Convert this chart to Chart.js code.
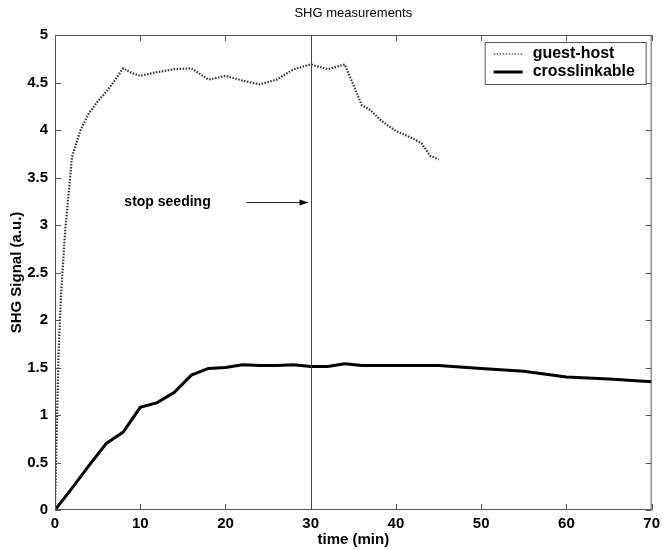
<!DOCTYPE html>
<html>
<head>
<meta charset="utf-8">
<script src="https://cdn.jsdelivr.net/npm/chart.js@4"></script>
<style>
  html, body { margin: 0; padding: 0; background: #fff; }
  #wrap { width: 665px; height: 550px; }
</style>
</head>
<body>
<div id="wrap"><canvas id="c"></canvas></div>
<script>
// data
const guestTime  = [0, 0.4, 0.7, 1.2, 2, 3, 4, 5, 6, 7, 8, 9, 10, 12, 14, 16, 18, 20, 22, 24, 26, 28, 30, 32, 34, 36, 37, 38, 39, 40, 41, 42, 43, 44, 45];
const guestHost  = [0, 1.6, 2.25, 2.95, 3.72, 4.0, 4.18, 4.3, 4.4, 4.52, 4.65, 4.6, 4.57, 4.61, 4.64, 4.65, 4.53, 4.57, 4.52, 4.48, 4.53, 4.64, 4.69, 4.64, 4.69, 4.26, 4.21, 4.12, 4.05, 3.99, 3.95, 3.91, 3.86, 3.73, 3.69];

const crossTime  = [0, 2, 4, 6, 8, 10, 12, 14, 16, 18, 20, 22, 24, 26, 28, 30, 32, 34, 36, 40, 45, 50, 55, 60, 65, 70];
const crossLink  = [0, 0.23, 0.47, 0.70, 0.82, 1.08, 1.13, 1.24, 1.42, 1.49, 1.50, 1.53, 1.52, 1.52, 1.53, 1.51, 1.51, 1.54, 1.52, 1.52, 1.52, 1.49, 1.46, 1.40, 1.38, 1.35];

const seriesNames = ['guest-host', 'crosslinkable'];
const stopSeedingTime = 30;
const arrowFrom = 22.5;
const arrowLevel = 3.24;
const labelTime = 13.2;

const toPoints = (xs, ys) => xs.map((x, i) => ({ x: x, y: ys[i] }));

const FONT = '"Liberation Sans", Arial, sans-serif';

// matlab-ish frame, inward ticks, annotation and legend
const decorations = {
  id: 'decorations',
  afterDraw(chart) {
    const ctx = chart.ctx;
    const a = chart.chartArea;
    const xs = chart.scales.x;
    const ys = chart.scales.y;
    ctx.save();

    // frame
    ctx.strokeStyle = '#555';
    ctx.lineWidth = 1;
    ctx.strokeRect(a.left + 0.5, a.top + 0.5, a.right - a.left - 1, a.bottom - a.top - 1);

    // inward ticks
    ctx.beginPath();
    xs.ticks.forEach(t => {
      const px = Math.round(xs.getPixelForValue(t.value)) + 0.5;
      ctx.moveTo(px, a.bottom); ctx.lineTo(px, a.bottom - 6);
      ctx.moveTo(px, a.top); ctx.lineTo(px, a.top + 6);
    });
    ys.ticks.forEach(t => {
      const py = Math.round(ys.getPixelForValue(t.value)) + 0.5;
      ctx.moveTo(a.left, py); ctx.lineTo(a.left + 6, py);
      ctx.moveTo(a.right, py); ctx.lineTo(a.right - 6, py);
    });
    ctx.stroke();

    // stop seeding line
    const sx = Math.round(xs.getPixelForValue(stopSeedingTime)) + 0.5;
    ctx.strokeStyle = '#444';
    ctx.beginPath();
    ctx.moveTo(sx, a.top); ctx.lineTo(sx, a.bottom);
    ctx.stroke();

    // arrow
    const ay = Math.round(ys.getPixelForValue(arrowLevel)) + 0.5;
    const ax0 = xs.getPixelForValue(arrowFrom);
    const ax1 = sx - 3;
    ctx.strokeStyle = '#222';
    ctx.beginPath();
    ctx.moveTo(ax0, ay); ctx.lineTo(ax1 - 8, ay);
    ctx.stroke();
    ctx.fillStyle = '#000';
    ctx.beginPath();
    ctx.moveTo(ax1, ay); ctx.lineTo(ax1 - 9, ay - 3); ctx.lineTo(ax1 - 9, ay + 3);
    ctx.closePath();
    ctx.fill();

    ctx.font = 'bold 14px ' + FONT;
    ctx.textAlign = 'center';
    ctx.textBaseline = 'middle';
    ctx.fillText('stop seeding', xs.getPixelForValue(labelTime), ay);

    // title
    ctx.font = '13px ' + FONT;
    ctx.fillText('SHG measurements', (a.left + a.right) / 2, 13);

    // legend
    const lx = a.right - 167, ly = a.top + 7, lw = 161, lh = 42;
    ctx.fillStyle = '#fff';
    ctx.fillRect(lx, ly, lw, lh);
    ctx.strokeStyle = '#555';
    ctx.lineWidth = 1;
    ctx.strokeRect(lx + 0.5, ly + 0.5, lw, lh);
    ctx.font = 'bold 16px ' + FONT;
    ctx.textAlign = 'left';
    ctx.fillStyle = '#000';
    const rows = [ly + 12, ly + 30];
    ctx.setLineDash([1.5, 1.5]);
    ctx.lineWidth = 1.5;
    ctx.strokeStyle = '#666';
    ctx.beginPath(); ctx.moveTo(lx + 9, rows[0]); ctx.lineTo(lx + 38, rows[0]); ctx.stroke();
    ctx.setLineDash([]);
    ctx.lineWidth = 3;
    ctx.strokeStyle = '#000';
    ctx.beginPath(); ctx.moveTo(lx + 9, rows[1]); ctx.lineTo(lx + 38, rows[1]); ctx.stroke();
    ctx.fillText(seriesNames[0], lx + 48, rows[0]);
    ctx.fillText(seriesNames[1], lx + 48, rows[1]);

    ctx.restore();
  }
};

new Chart(document.getElementById('c'), {
  type: 'line',
  data: {
    datasets: [
      {
        label: seriesNames[0],
        data: toPoints(guestTime, guestHost),
        borderColor: '#333',
        borderWidth: 2.2,
        borderDash: [1.5, 1.5],
        pointRadius: 0,
        tension: 0,
        fill: false
      },
      {
        label: seriesNames[1],
        data: toPoints(crossTime, crossLink),
        borderColor: '#000',
        borderWidth: 3,
        pointRadius: 0,
        tension: 0,
        fill: false
      }
    ]
  },
  options: {
    responsive: true,
    maintainAspectRatio: false,
    animation: false,
    layout: { padding: { top: 35, right: 9, left: 0, bottom: 0 } },
    plugins: {
      legend: { display: false },
      title: { display: false },
      tooltip: { enabled: false }
    },
    scales: {
      x: {
        type: 'linear',
        min: 0,
        max: 70,
        afterFit(scale) { scale.height = 40; },
        grid: { display: false, drawTicks: false },
        border: { display: false },
        ticks: {
          stepSize: 10,
          padding: 5,
          color: '#000',
          maxRotation: 0,
          font: { family: FONT, size: 15, weight: 'bold' }
        },
        title: {
          display: true,
          text: 'time (min)',
          color: '#000',
          padding: { top: 0, bottom: 1 },
          font: { family: FONT, size: 15, weight: 'bold' }
        }
      },
      y: {
        min: 0,
        max: 5,
        afterFit(scale) { scale.width = 55; },
        grid: { display: false, drawTicks: false },
        border: { display: false },
        ticks: {
          stepSize: 0.5,
          padding: 7,
          color: '#000',
          callback: v => String(v),
          font: { family: FONT, size: 15, weight: 'bold' }
        },
        title: {
          display: true,
          text: 'SHG Signal (a.u.)',
          color: '#000',
          padding: { top: 8, bottom: 0 },
          font: { family: FONT, size: 15, weight: 'bold' }
        }
      }
    }
  },
  plugins: [decorations]
});
</script>
</body>
</html>
